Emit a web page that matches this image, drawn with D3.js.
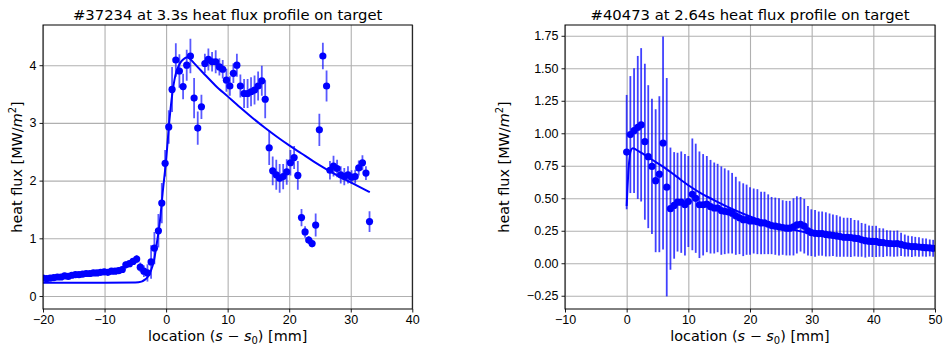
<!doctype html>
<html>
<head>
<meta charset="utf-8">
<script src="https://cdnjs.cloudflare.com/ajax/libs/d3/7.8.5/d3.min.js"></script>
<style>
  body { margin: 0; background: #fff; }
  svg { font-family: "DejaVu Sans", sans-serif; }
  .grid line { stroke: #b0b0b0; stroke-width: 1.1; }
  .grid path { display: none; }
  .axis text { font-size: 12.5px; fill: #000; }
  .axis path { display: none; }
  .axis line { stroke: #000; stroke-width: 0.9; }
  .frame { fill: none; stroke: #000; stroke-width: 1; }
  .title { font-size: 14.8px; text-anchor: middle; }
  .label { font-size: 14.4px; text-anchor: middle; }
</style>
</head>
<body>
<svg id="chart" width="943" height="349"></svg>
<script>
// shot #37234 at 3.3 s : measured points along the target
var locA = [-20.0, -19.41, -18.83, -18.24, -17.66, -17.07, -16.49, -15.9, -15.32, -14.73,
  -14.15, -13.56, -12.98, -12.39, -11.81, -11.22, -10.63, -10.05, -9.46, -8.88,
  -8.29, -7.71, -7.12, -6.54, -5.95, -5.37, -4.78, -4.2, -3.61, -3.03,
  -2.44, -1.9, -1.25, -0.7, -0.16, 0.43, 0.97, 1.58, 2.16, 2.76,
  3.35, 3.95, 4.55, 5.14, 5.74, 6.3, 6.87, 7.47, 8.06, 8.66,
  9.2, 9.8, 10.36, 10.93, 11.5, 12.07, 12.67, 13.24, 13.8, 14.37,
  14.95, 15.55, 16.1, 16.75, 17.32, 17.9, 18.45, 19.02, 19.6, 20.2,
  20.8, 21.4, 22.0, 22.58, 23.17, 23.72, 24.3, 24.9, 25.47, 26.07,
  26.62, 27.2, 27.78, 28.37, 28.95, 29.55, 30.13, 30.72, 31.3, 31.9,
  32.47, 33.05];
var fluxA = [0.31, 0.30, 0.31, 0.32, 0.33, 0.33, 0.35, 0.34, 0.36, 0.37,
  0.37, 0.38, 0.39, 0.39, 0.40, 0.40, 0.41, 0.42, 0.41, 0.43,
  0.43, 0.44, 0.46, 0.54, 0.56, 0.60, 0.64, 0.50, 0.43, 0.40,
  0.59, 0.83, 1.13, 1.61, 2.30, 2.93, 3.58, 4.09, 3.90, 3.63,
  4.00, 4.16, 3.43, 2.91, 3.28, 4.03, 4.10, 4.06, 4.06, 3.97,
  3.93, 3.74, 3.64, 3.86, 4.00, 3.64, 3.51, 3.51, 3.54, 3.57,
  3.64, 3.73, 3.41, 2.57, 2.17, 2.10, 2.04, 2.07, 2.15, 2.31,
  2.40, 2.09, 1.36, 1.11, 0.97, 0.91, 1.23, 2.88, 4.16, 3.64,
  2.18, 2.25, 2.21, 2.10, 2.07, 2.10, 2.06, 2.07, 2.22, 2.31,
  2.13, 1.29];
var errA = [0.05, 0.05, 0.05, 0.05, 0.05, 0.05, 0.05, 0.05, 0.05, 0.05,
  0.05, 0.05, 0.05, 0.05, 0.05, 0.05, 0.05, 0.05, 0.05, 0.05,
  0.05, 0.05, 0.06, 0.06, 0.06, 0.06, 0.07, 0.08, 0.10, 0.15,
  0.29, 0.28, 0.29, 0.35, 0.23, 0.29, 0.39, 0.29, 0.29, 0.22,
  0.27, 0.30, 0.35, 0.29, 0.21, 0.17, 0.19, 0.17, 0.20, 0.15,
  0.16, 0.20, 0.17, 0.17, 0.20, 0.20, 0.25, 0.25, 0.25, 0.25,
  0.25, 0.26, 0.33, 0.30, 0.25, 0.26, 0.25, 0.22, 0.22, 0.22,
  0.20, 0.25, 0.15, 0.10, 0.07, 0.07, 0.20, 0.28, 0.23, 0.27,
  0.16, 0.18, 0.15, 0.15, 0.15, 0.15, 0.12, 0.12, 0.13, 0.13,
  0.12, 0.18];
// fitted profile for #37234
var fitLocA = [-20, -10, -5, -4, -3.5, -3, -2.5, -2, -1.5, -1, -0.5, 0, 0.5, 1, 1.5, 2, 2.5,
  3, 3.5, 4, 4.5, 6, 8, 10, 12, 14, 16, 18, 20, 22, 24, 26, 28, 30, 33.1];
var fitA = [0.23, 0.23, 0.235, 0.25, 0.28, 0.33, 0.43, 0.6, 0.92, 1.3, 1.85, 2.35, 3.0, 3.5, 3.82,
  3.98, 4.07, 4.12, 4.14, 4.1, 4.04, 3.87, 3.65, 3.46, 3.27, 3.09, 2.92, 2.76, 2.61, 2.47,
  2.33, 2.20, 2.08, 1.97, 1.80];

// shot #40473 at 2.64 s
var locB = [0.0, 0.6, 1.2, 1.8, 2.35, 2.95, 3.5, 4.1, 4.7, 5.3,
  5.9, 6.5, 7.1, 7.7, 8.25, 8.85, 9.45, 10.0, 10.65, 11.2,
  11.8, 12.4, 13.0, 13.6, 14.2, 14.75, 15.35, 15.9, 16.5, 17.1,
  17.7, 18.3, 18.9, 19.45, 20.0, 20.6, 21.2, 21.8, 22.35, 22.95,
  23.5, 24.1, 24.7, 25.3, 25.9, 26.45, 27.05, 27.6, 28.2, 28.8,
  29.4, 29.95, 30.55, 31.15, 31.7, 32.3, 32.9, 33.45, 34.05, 34.6,
  35.2, 35.8, 36.35, 36.95, 37.55, 38.1, 38.7, 39.3, 39.85, 40.45,
  41.0, 41.6, 42.2, 42.75, 43.35, 43.9, 44.5, 45.1, 45.65, 46.25,
  46.8, 47.4, 48.0, 48.55, 49.15, 49.7];
var fluxB = [0.855, 0.99, 1.02, 1.045, 1.065, 0.935, 0.82, 0.745, 0.635, 0.685,
  0.925, 0.585, 0.42, 0.445, 0.47, 0.47, 0.45, 0.475, 0.53, 0.50,
  0.45, 0.45, 0.455, 0.435, 0.425, 0.425, 0.405, 0.40, 0.395, 0.385,
  0.365, 0.35, 0.335, 0.335, 0.325, 0.325, 0.32, 0.31, 0.31, 0.30,
  0.29, 0.285, 0.28, 0.275, 0.27, 0.27, 0.28, 0.295, 0.30, 0.285,
  0.25, 0.235, 0.23, 0.228, 0.228, 0.222, 0.218, 0.215, 0.21, 0.205,
  0.20, 0.20, 0.198, 0.193, 0.19, 0.18, 0.174, 0.17, 0.168, 0.168,
  0.16, 0.158, 0.154, 0.152, 0.15, 0.152, 0.145, 0.136, 0.132, 0.128,
  0.128, 0.125, 0.122, 0.12, 0.118, 0.115];
var errB = [0.44, 0.45, 0.48, 0.55, 0.59, 0.60, 0.55, 0.52, 0.55, 0.60,
  0.82, 0.84, 0.47, 0.41, 0.38, 0.39, 0.39, 0.35, 0.43, 0.42,
  0.41, 0.39, 0.37, 0.36, 0.35, 0.34, 0.34, 0.33, 0.32, 0.31,
  0.30, 0.28, 0.28, 0.27, 0.26, 0.25, 0.25, 0.24, 0.24, 0.23,
  0.22, 0.22, 0.22, 0.21, 0.21, 0.21, 0.22, 0.22, 0.21, 0.21,
  0.19, 0.18, 0.18, 0.17, 0.17, 0.17, 0.165, 0.16, 0.16, 0.155,
  0.15, 0.15, 0.15, 0.14, 0.14, 0.13, 0.13, 0.12, 0.12, 0.12,
  0.11, 0.11, 0.10, 0.10, 0.10, 0.10, 0.09, 0.085, 0.08, 0.08,
  0.075, 0.075, 0.07, 0.07, 0.065, 0.065];
// fitted profile for #40473
var fitLocB = [0, 0.3, 0.7, 1, 2, 4, 6, 8, 10, 12, 14, 17, 20, 25, 30, 35, 40, 45, 50];
var fitB = [0.44, 0.72, 0.87, 0.885, 0.86, 0.8, 0.74, 0.67, 0.6, 0.54, 0.49, 0.42, 0.36,
  0.28, 0.23, 0.19, 0.155, 0.13, 0.105];

var ticksXA = [-20, -10, 0, 10, 20, 30, 40];
var ticksYA = [0, 1, 2, 3, 4];
var ticksXB = [-10, 0, 10, 20, 30, 40, 50];
var ticksYB = [-0.25, 0, 0.25, 0.5, 0.75, 1, 1.25, 1.5, 1.75];

var svg = d3.select("#chart");

function panel(o) {
  var x = d3.scaleLinear().domain(o.xDomain).range([o.left, o.right]);
  var y = d3.scaleLinear().domain(o.yDomain).range([o.bottom, o.top]);
  var w = o.right - o.left, h = o.bottom - o.top;
  var g = svg.append("g");

  // grid
  g.append("g").attr("class", "grid")
    .attr("transform", "translate(0," + o.bottom + ")")
    .call(d3.axisBottom(x).tickValues(o.xTicks).tickSize(-h).tickFormat(""));
  g.append("g").attr("class", "grid")
    .attr("transform", "translate(" + o.left + ",0)")
    .call(d3.axisLeft(y).tickValues(o.yTicks).tickSize(-w).tickFormat(""));

  svg.append("clipPath").attr("id", o.id)
    .append("rect").attr("x", o.left).attr("y", o.top).attr("width", w).attr("height", h);
  var plot = g.append("g").attr("clip-path", "url(#" + o.id + ")");

  var pts = o.loc.map(function(d, i) { return {x: d, y: o.flux[i], e: o.err[i]}; });

  // error bars
  plot.selectAll(".eb").data(pts).enter().append("line")
    .attr("x1", function(d) { return x(d.x); })
    .attr("x2", function(d) { return x(d.x); })
    .attr("y1", function(d) { return y(d.y - d.e); })
    .attr("y2", function(d) { return y(d.y + d.e); })
    .attr("stroke", "#0000ff").attr("stroke-opacity", o.ebAlpha).attr("stroke-width", 1.8);

  // markers
  plot.selectAll(".pt").data(pts).enter().append("circle")
    .attr("cx", function(d) { return x(d.x); })
    .attr("cy", function(d) { return y(d.y); })
    .attr("r", 3.6).attr("fill", "#0000ff");

  // fit
  var fit = o.fitLoc.map(function(d, i) { return [d, o.fit[i]]; });
  plot.append("path").datum(fit)
    .attr("d", d3.line().x(function(d) { return x(d[0]); }).y(function(d) { return y(d[1]); })
      .curve(d3.curveMonotoneX))
    .attr("fill", "none").attr("stroke", "#0000ff").attr("stroke-width", 2);

  // axes
  g.append("g").attr("class", "axis")
    .attr("transform", "translate(0," + o.bottom + ")")
    .call(d3.axisBottom(x).tickValues(o.xTicks).tickSize(3.5).tickPadding(3).tickFormat(d3.format("d")));
  g.append("g").attr("class", "axis")
    .attr("transform", "translate(" + o.left + ",0)")
    .call(d3.axisLeft(y).tickValues(o.yTicks).tickSize(3.5).tickPadding(3).tickFormat(d3.format(o.yFormat)));

  g.append("rect").attr("class", "frame")
    .attr("x", o.left).attr("y", o.top).attr("width", w).attr("height", h);

  g.append("text").attr("class", "title")
    .attr("x", (o.left + o.right) / 2).attr("y", o.top - 5)
    .text(o.title);

  // x label: location (s − s0) [mm]
  var xl = g.append("text").attr("class", "label")
    .attr("x", (o.left + o.right) / 2).attr("y", o.bottom + 32);
  xl.append("tspan").text("location (");
  xl.append("tspan").attr("font-style", "italic").text("s");
  xl.append("tspan").text(" \u2212 ");
  xl.append("tspan").attr("font-style", "italic").text("s");
  xl.append("tspan").attr("font-size", "10px").attr("dy", 3).text("0");
  xl.append("tspan").attr("dy", -3).text(") [mm]");

  // y label: heat flux [MW/m2]
  var yl = g.append("text").attr("class", "label")
    .attr("transform", "translate(" + o.yLabelX + "," + (o.top + o.bottom) / 2 + ") rotate(-90)");
  yl.append("tspan").text("heat flux [MW/");
  yl.append("tspan").attr("font-style", "italic").text("m");
  yl.append("tspan").attr("font-size", "10px").attr("dy", -6).text("2");
  yl.append("tspan").attr("dy", 6).text("]");
}

panel({
  id: "clipA", left: 43, right: 412.3, top: 25, bottom: 309,
  xDomain: [-20, 40], yDomain: [-0.225, 4.697],
  xTicks: ticksXA, yTicks: ticksYA, yFormat: "d",
  loc: locA, flux: fluxA, err: errA, fitLoc: fitLocA, fit: fitA, ebAlpha: 0.65,
  title: "#37234 at 3.3s heat flux profile on target", yLabelX: 22
});

panel({
  id: "clipB", left: 565, right: 935, top: 25, bottom: 309,
  xDomain: [-10, 50], yDomain: [-0.352, 1.833],
  xTicks: ticksXB, yTicks: ticksYB, yFormat: ".2f",
  loc: locB, flux: fluxB, err: errB, fitLoc: fitLocB, fit: fitB, ebAlpha: 0.75,
  title: "#40473 at 2.64s heat flux profile on target", yLabelX: 509
});
</script>
</body>
</html>
